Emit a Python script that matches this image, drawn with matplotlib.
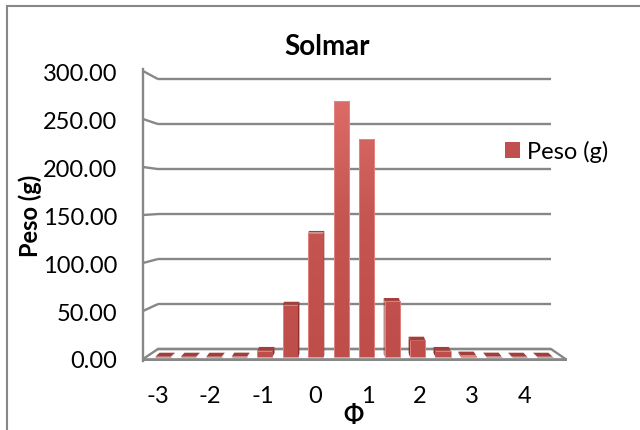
import numpy as np
import matplotlib
matplotlib.use("Agg")
import matplotlib.pyplot as plt
from matplotlib.transforms import Affine2D
from matplotlib.colors import LinearSegmentedColormap
from matplotlib.patches import Patch, Rectangle

plt.rcParams['font.family'] = ['Lato', 'DejaVu Sans']
plt.rcParams['axes.unicode_minus'] = False

# ---------------- data ----------------
phi = [-3, -2.5, -2, -1.5, -1, -0.5, 0, 0.5, 1, 1.5, 2, 2.5, 3, 3.5, 4, 4.5]
peso = [0.3, 0.3, 0.3, 0.4, 6.5, 55, 131, 270, 229, 59, 17.5, 6.5, 1.5, 0.4, 0.3, 0.3]
x_ticks = [-3, -2, -1, 0, 1, 2, 3, 4]
x_tick_labels = ['-3', '-2', '-1', '0', '1', '2', '3', '4']
y_ticks = [0, 50, 100, 150, 200, 250, 300]
title = 'Solmar'
series_name = 'Peso (g)'
y_label = 'Peso (g)'
x_label = 'Φ'

# ---------------- layout ----------------
W, H = 640, 431
fig = plt.figure(figsize=(W / 100, H / 100), dpi=100)
fig.patch.set_facecolor('white')

AX_L, AX_R, AX_T, AX_B = 143, 567, 70, 362      # axes box in pixels
PX_PER_PHI = 50.93                              # pixels per phi unit (bar plane)
PX_PER_VAL = 0.95                               # pixels per gram (bar plane)
X0_PX, Y0_PX = 163, 358                         # pixel of first bar / zero

ax = fig.add_axes([AX_L / W, 1 - AX_B / H, (AX_R - AX_L) / W, (AX_B - AX_T) / H])
xlim = (phi[0] - (X0_PX - AX_L) / PX_PER_PHI, phi[0] + (AX_R - X0_PX) / PX_PER_PHI)
ylim = (-(AX_B - Y0_PX) / PX_PER_VAL, (Y0_PX - AX_T) / PX_PER_VAL)

GRID = '#878787'
BAR = '#C0504D'

# back wall grid (perspective: lines sit on the back plane)
back_scale, back_off = 0.947, 8.42
T_back = Affine2D().scale(1, back_scale).translate(0, back_off) + ax.transData
xb0 = phi[0] - 5 / PX_PER_PHI
xb1 = phi[0] + 388 / PX_PER_PHI
ax.hlines(y_ticks, xb0, xb1, transform=T_back, colors=GRID, lw=1.7, zorder=0.5)

# front-plane mapping for the value axis
k_fy, off_fy = 1.0105, -2.105

# side wall diagonals linking front axis to back grid
for v in y_ticks:
    front = k_fy * v + off_fy
    back = back_off + back_scale * v
    ax.plot([xlim[0], xb0], [front, back], color=GRID, lw=1.7, zorder=0.5,
            solid_capstyle='butt')

# floor
floor_front = -3.2
ax.plot([xb0, xb1, xlim[1], xlim[0]], [back_off, back_off, floor_front, floor_front],
        color=GRID, lw=1.7, zorder=1)
ax.plot([xlim[0], xlim[1]], [floor_front, floor_front], color=GRID, lw=2.6, zorder=1,
        solid_capstyle='butt')

# bars with vertical gradient
width = 0.30
bars = ax.bar(phi, peso, width=width, color=BAR, edgecolor='none', zorder=2)
cmap = LinearSegmentedColormap.from_list('g', ['#BF4D49', '#C65652', '#E2716C'])
grad = np.linspace(0, 1, 256).reshape(-1, 1)
for rect in bars:
    x = rect.get_x()
    im = ax.imshow(grad, extent=(x, x + width, 0, y_ticks[-1]), origin='lower',
                   cmap=cmap, aspect='auto', zorder=2.05, interpolation='bilinear')
    im.set_clip_path(rect)
    ax.add_patch(Rectangle((x, 0), width, rect.get_height(), fill=False,
                           edgecolor='#E58A86', lw=0.6, zorder=2.06))

# top caps and side faces (pseudo 3D, shrinking toward eye level)
centre_px = 355
for p, v in zip(phi, peso):
    dy = 4 * max(0.0, 1 - v / 220) / PX_PER_VAL
    xc_px = X0_PX + (p - phi[0]) * PX_PER_PHI
    dx = (centre_px - xc_px) * 0.022 / PX_PER_PHI
    xl, xr = p - width / 2, p + width / 2
    if dy > 0:
        ax.fill([xl, xr, xr + dx, xl + dx], [v, v, v + dy, v + dy],
                color='#A23E3B', lw=0, zorder=2.2)
    if dx > 0:
        ax.fill([xr, xr + dx, xr + dx, xr], [0, dy, v + dy, v],
                color='#8E302D', lw=0, zorder=2.1)
    elif dx < 0:
        ax.fill([xl, xl + dx, xl + dx, xl], [0, dy, v + dy, v],
                color='#8E302D', lw=0, zorder=2.1)

ax.set_xlim(*xlim)
ax.set_ylim(*ylim)

for s in ['top', 'right', 'bottom']:
    ax.spines[s].set_visible(False)
ax.spines['left'].set_color(GRID)
ax.spines['left'].set_linewidth(1.7)
ax.set_facecolor('none')
ax.set_xticks([])
ax.set_yticks([])

# value labels sit on the front plane
secy = ax.secondary_yaxis('left',
                          functions=(lambda d: (d - off_fy) / k_fy,
                                     lambda s: s * k_fy + off_fy))
secy.set_yticks(y_ticks)
secy.set_yticklabels([f'{v:.2f}' for v in y_ticks])
secy.tick_params(length=0, pad=18.7, labelsize=17)
secy.spines['left'].set_visible(False)

# category labels sit on the (slightly wider) front plane
k_front, off_front = 1.0289, -0.0155
sec = ax.secondary_xaxis('bottom',
                         functions=(lambda p: (p - off_front) / k_front,
                                    lambda s: s * k_front + off_front))
sec.set_xticks(x_ticks)
sec.set_xticklabels(x_tick_labels)
sec.tick_params(length=0, pad=17, labelsize=17)
sec.spines['bottom'].set_visible(False)

# texts
fig.text(327 / W, 1 - 47 / H, title, ha='center', va='center', fontsize=20,
         fontweight='bold')
fig.text(30 / W, 1 - 216 / H, y_label, ha='center', va='center', fontsize=17,
         fontweight='bold', rotation=90)
fig.text(353 / W, 1 - 416 / H, x_label, ha='center', va='center', fontsize=17,
         fontweight='bold')

# legend
handle = Patch(facecolor=BAR, edgecolor='none')
fig.legend([handle], [series_name], loc='center left',
           bbox_to_anchor=(505 / W, 1 - 152 / H), bbox_transform=fig.transFigure,
           frameon=False, fontsize=17, handlelength=0.65, handleheight=0.65,
           handletextpad=0.3, borderpad=0, borderaxespad=0)

# chart border
fig.patches.append(Rectangle((7 / W, -0.5), 2, 1.5 - 7 / H, transform=fig.transFigure,
                             fill=False, edgecolor=GRID, lw=1.5))

fig.savefig('out.png', dpi=100)
